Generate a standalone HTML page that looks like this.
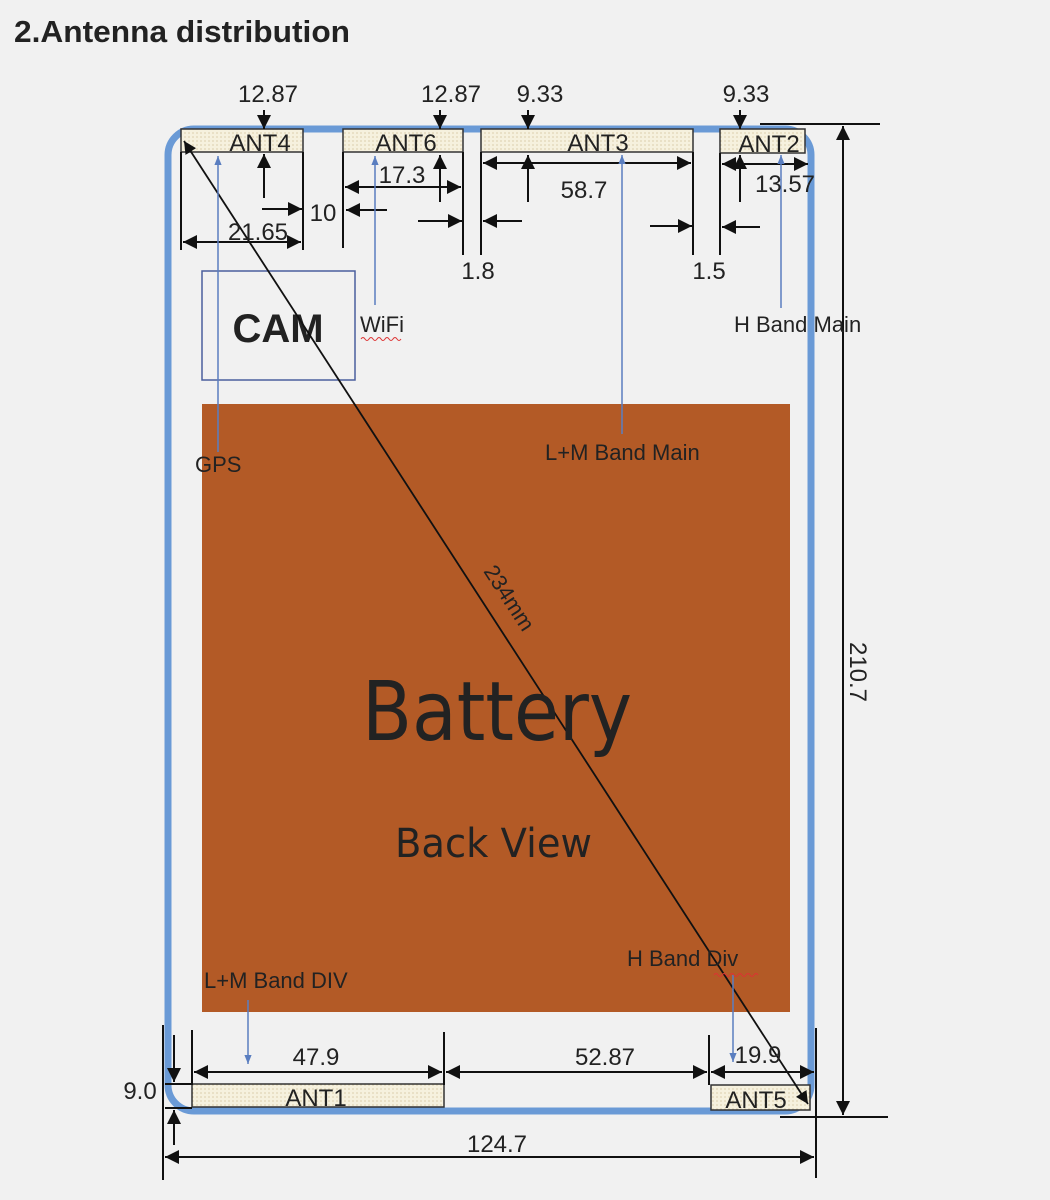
<!DOCTYPE html>
<html><head><meta charset="utf-8"><style>
html,body{margin:0;padding:0;background:#f1f1f1;}
svg{display:block;}
text{font-family:"Liberation Sans",sans-serif;fill:#222;}
.c{font-family:"DejaVu Sans","Liberation Sans",sans-serif;}
</style></head><body>
<svg width="1050" height="1200" viewBox="0 0 1050 1200" xmlns="http://www.w3.org/2000/svg">
<defs>
<marker id="a" viewBox="0 0 10 10" refX="10" refY="5" markerWidth="7" markerHeight="7" orient="auto-start-reverse"><path d="M0,0L10,5L0,10z" fill="#111"/></marker>
<marker id="b" viewBox="0 0 10 10" refX="10" refY="5" markerWidth="6" markerHeight="6" orient="auto-start-reverse"><path d="M0,1L10,5L0,9z" fill="#5a7ec0"/></marker>
<pattern id="d" width="4" height="4" patternUnits="userSpaceOnUse"><rect width="4" height="4" fill="#f6f1de"/><circle cx="1" cy="1" r="0.6" fill="#c9b98a"/></pattern>
</defs>
<rect width="1050" height="1200" fill="#f1f1f1"/>
<text x="14" y="42" font-size="31" font-weight="bold" fill="#111" textLength="336" lengthAdjust="spacingAndGlyphs">2.Antenna distribution</text>

<rect x="168" y="129" width="643" height="982" rx="26" fill="none" stroke="#6a9ad6" stroke-width="7"/>
<rect x="202" y="404" width="588" height="608" fill="#b35a26"/>
<rect x="202" y="271" width="153" height="109" fill="none" stroke="#4a5f9e" stroke-width="1.5"/>
<text x="278" y="342" font-size="40" font-weight="bold" text-anchor="middle" fill="#111">CAM</text>

<g stroke="#333" stroke-width="1.5" fill="url(#d)">
<rect x="181" y="129" width="122" height="23"/>
<rect x="343" y="129" width="120" height="23"/>
<rect x="481" y="129" width="212" height="23"/>
<rect x="720" y="129" width="85" height="24"/>
<rect x="192" y="1084" width="252" height="23"/>
<rect x="711" y="1085" width="99" height="25"/>
</g>
<g font-size="24" fill="#333" text-anchor="middle">
<text x="260" y="151">ANT4</text>
<text x="406" y="151">ANT6</text>
<text x="598" y="151">ANT3</text>
<text x="769" y="152">ANT2</text>
<text x="316" y="1106">ANT1</text>
<text x="756" y="1108">ANT5</text>
</g>

<g stroke="#111" stroke-width="2" fill="none">
<line x1="181" y1="152" x2="181" y2="250"/>
<line x1="303" y1="152" x2="303" y2="250"/>
<line x1="343" y1="152" x2="343" y2="248"/>
<line x1="463" y1="152" x2="463" y2="255"/>
<line x1="481" y1="152" x2="481" y2="255"/>
<line x1="693" y1="152" x2="693" y2="255"/>
<line x1="720" y1="153" x2="720" y2="255"/>
<line x1="264" y1="110" x2="264" y2="129" marker-end="url(#a)"/>
<line x1="440" y1="110" x2="440" y2="129" marker-end="url(#a)"/>
<line x1="528" y1="110" x2="528" y2="129" marker-end="url(#a)"/>
<line x1="740" y1="110" x2="740" y2="129" marker-end="url(#a)"/>
<line x1="183" y1="242" x2="301" y2="242" marker-start="url(#a)" marker-end="url(#a)"/>
<line x1="264" y1="198" x2="264" y2="154" marker-end="url(#a)"/>
<line x1="262" y1="209" x2="302" y2="209" marker-end="url(#a)"/>
<line x1="387" y1="210" x2="346" y2="210" marker-end="url(#a)"/>
<line x1="345" y1="187" x2="461" y2="187" marker-start="url(#a)" marker-end="url(#a)"/>
<line x1="440" y1="202" x2="440" y2="155" marker-end="url(#a)"/>
<line x1="418" y1="221" x2="462" y2="221" marker-end="url(#a)"/>
<line x1="483" y1="163" x2="691" y2="163" marker-start="url(#a)" marker-end="url(#a)"/>
<line x1="528" y1="202" x2="528" y2="155" marker-end="url(#a)"/>
<line x1="522" y1="221" x2="483" y2="221" marker-end="url(#a)"/>
<line x1="650" y1="226" x2="692" y2="226" marker-end="url(#a)"/>
<line x1="722" y1="164" x2="808" y2="164" marker-start="url(#a)" marker-end="url(#a)"/>
<line x1="740" y1="202" x2="740" y2="155" marker-end="url(#a)"/>
<line x1="760" y1="227" x2="722" y2="227" marker-end="url(#a)"/>
<line x1="760" y1="124" x2="880" y2="124"/>
<line x1="780" y1="1117" x2="888" y2="1117"/>
<line x1="843" y1="126" x2="843" y2="1115" marker-start="url(#a)" marker-end="url(#a)"/>
<line x1="184" y1="141" x2="808" y2="1104" marker-start="url(#a)" marker-end="url(#a)" stroke-width="1.8"/>
<line x1="163" y1="1025" x2="163" y2="1180"/>
<line x1="816" y1="1028" x2="816" y2="1178"/>
<line x1="192" y1="1030" x2="192" y2="1085"/>
<line x1="444" y1="1032" x2="444" y2="1085"/>
<line x1="709" y1="1035" x2="709" y2="1085"/>
<line x1="165" y1="1084" x2="192" y2="1084"/>
<line x1="165" y1="1108" x2="192" y2="1108"/>
<line x1="174" y1="1035" x2="174" y2="1082" marker-end="url(#a)"/>
<line x1="174" y1="1145" x2="174" y2="1110" marker-end="url(#a)"/>
<line x1="194" y1="1072" x2="442" y2="1072" marker-start="url(#a)" marker-end="url(#a)"/>
<line x1="446" y1="1072" x2="707" y2="1072" marker-start="url(#a)" marker-end="url(#a)"/>
<line x1="711" y1="1072" x2="814" y2="1072" marker-start="url(#a)" marker-end="url(#a)"/>
<line x1="165" y1="1157" x2="814" y2="1157" marker-start="url(#a)" marker-end="url(#a)"/>
</g>

<g stroke="#5a7ec0" stroke-width="1.5" fill="none">
<line x1="218" y1="452" x2="218" y2="156" marker-end="url(#b)"/>
<line x1="375" y1="305" x2="375" y2="156" marker-end="url(#b)"/>
<line x1="622" y1="434" x2="622" y2="155" marker-end="url(#b)"/>
<line x1="781" y1="308" x2="781" y2="155" marker-end="url(#b)"/>
<line x1="248" y1="1000" x2="248" y2="1064" marker-end="url(#b)"/>
<line x1="733" y1="975" x2="733" y2="1062" marker-end="url(#b)"/>
</g>

<g font-size="24" fill="#333" text-anchor="middle">
<text x="268" y="102">12.87</text>
<text x="451" y="102">12.87</text>
<text x="540" y="102">9.33</text>
<text x="746" y="102">9.33</text>
<text x="323" y="221">10</text>
<text x="258" y="240">21.65</text>
<text x="402" y="183">17.3</text>
<text x="584" y="198">58.7</text>
<text x="785" y="192">13.57</text>
<text x="478" y="279">1.8</text>
<text x="709" y="279">1.5</text>
<text x="316" y="1065">47.9</text>
<text x="605" y="1065">52.87</text>
<text x="758" y="1063">19.9</text>
<text x="140" y="1099">9.0</text>
<text x="497" y="1152">124.7</text>
<text transform="translate(850,672) rotate(90)">210.7</text>
<text transform="translate(503,602) rotate(57)" font-size="22">234mm</text>
</g>

<g class="c" font-size="22" fill="#222">
<text x="360" y="332">WiFi</text>
<text x="734" y="332">H Band Main</text>
<text x="195" y="472">GPS</text>
<text x="545" y="460">L+M Band Main</text>
<text x="204" y="988">L+M Band DIV</text>
<text x="627" y="966">H Band Div</text>
</g>
<path d="M361 339 q2 -3 4 0 t4 0 t4 0 t4 0 t4 0 t4 0 t4 0 t4 0 t4 0 t4 0" stroke="#d33" stroke-width="1" fill="none"/>
<path d="M714 975 q2 -3 4 0 t4 0 t4 0 t4 0 t4 0 t4 0 t4 0 t4 0 t4 0 t4 0 t4 0" stroke="#d33" stroke-width="1" fill="none"/>

<text x="362" y="740" font-size="82" class="c" fill="#111" textLength="270" lengthAdjust="spacingAndGlyphs">Battery</text>
<text x="395" y="857" font-size="40" class="c" fill="#111" textLength="197" lengthAdjust="spacingAndGlyphs">Back View</text>
</svg>
</body></html>
